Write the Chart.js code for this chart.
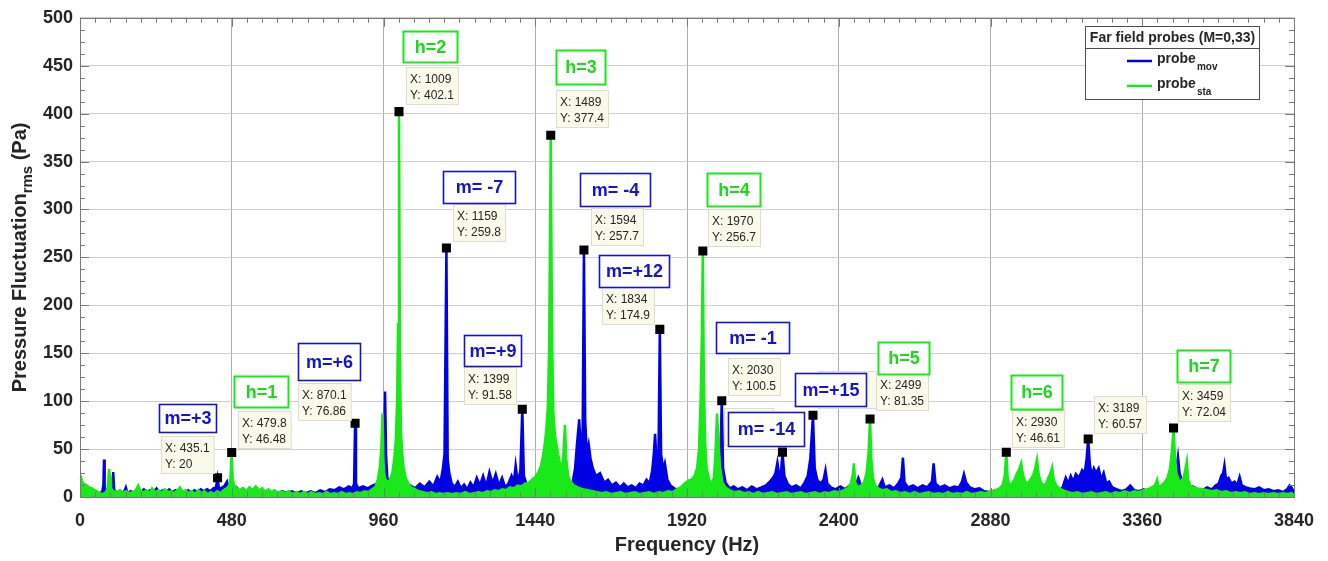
<!DOCTYPE html>
<html>
<head>
<meta charset="utf-8">
<script src="https://cdn.jsdelivr.net/npm/chart.js@4.4.1/dist/chart.umd.min.js"></script>
<style>
html, body { margin: 0; padding: 0; background: #fff; }
#wrap { width: 1328px; height: 561px; }
</style>
</head>
<body>
<div id="wrap"><canvas id="spectrum" width="1328" height="561"></canvas></div>
<script>
// --- spectrum: frequency (Hz) / amplitude rms (Pa) ---
const freqMov = [0,12,24,36,48,60,70,74,76,78,84,92,100,103,105,108,116,128,138,145,150,160,172,182,192,202,212,222,232,242,252,262,272,282,292,302,312,322,332,342,352,362,372,382,392,402,412,422,430,435.1,440,450,458,465,470,485,495,505,515,525,535,545,555,565,575,585,595,605,615,625,640,655,670,685,700,715,730,745,760,775,790,805,820,835,850,862,867,870.1,873,880,895,910,925,940,950,958,962,965,968,972,980,990,1000,1015,1030,1045,1060,1075,1090,1105,1118,1130,1140,1148,1153,1159,1163,1168,1175,1185,1195,1205,1215,1225,1235,1245,1255,1265,1275,1285,1295,1305,1315,1325,1335,1345,1355,1365,1372,1378,1385,1393,1399,1404,1412,1422,1435,1448,1460,1475,1490,1505,1520,1535,1548,1558,1566,1572,1579,1585,1590,1594,1598,1603,1609,1615,1622,1632,1645,1658,1670,1682,1695,1708,1720,1732,1745,1758,1770,1782,1792,1802,1810,1815,1819,1825,1830,1834,1838,1845,1850,1858,1868,1880,1895,1910,1930,1950,1970,1990,2005,2018,2025,2030,2034,2042,2055,2068,2080,2095,2110,2125,2140,2155,2170,2182,2192,2200,2206,2212,2218,2222,2228,2238,2250,2265,2280,2292,2302,2310,2318.5,2324,2332,2342,2352,2358,2364,2375,2390,2405,2420,2435,2450,2462,2468,2480,2495,2510,2525,2538,2545,2560,2575,2588,2598,2603,2608,2620,2635,2650,2665,2680,2695,2700,2706,2720,2735,2750,2765,2780,2790,2796,2803,2815,2830,2845,2860,2880,2900,2920,2940,2960,2980,3000,3020,3040,3060,3080,3095,3108,3118,3126,3134,3142,3150,3160,3170,3178,3184,3189,3194,3200,3207,3214,3222,3230,3238,3246,3255,3265,3280,3295,3310,3322,3335,3350,3365,3380,3395,3410,3425,3440,3452,3462,3468,3473,3478,3485,3495,3508,3520,3535,3550,3565,3580,3592,3602,3610,3616,3620,3625,3633,3642,3652,3660,3668,3675,3688,3700,3715,3730,3745,3760,3775,3790,3805,3818,3826,3832,3840];
const ampMov = [3,5,3,5,3,4,5,12,39,10,5,7,8,15,26,8,4,6,4,10,4,6,4,7,5,8,5,7,5,9,5,7,5,8,5,7,5,6,4,7,5,7,5,8,6,8,6,9,10,20,8,10,12,16,9,7,10,6,9,6,8,5,8,6,7,5,7,5,6,4,6,4,6,4,6,4,6,4,7,5,8,7,10,8,11,9,14,76.86,14,9,11,9,12,14,20,35,60,110,45,20,14,10,8,6,9,12,9,14,10,16,11,21,15,30,45,259.8,40,25,15,10,16,9,13,8,15,10,20,12,22,11,26,14,24,12,20,10,14,22,15,33,14,28,91.58,22,14,10,12,8,10,6,5,7,9,8,12,15,30,55,81,45,70,257.7,80,45,55,40,30,22,25,15,18,12,15,10,14,10,12,9,14,12,18,14,28,45,66,30,50,174.9,45,28,35,18,12,9,7,5,6,5,6,8,12,20,35,100.5,30,15,9,11,8,10,7,11,8,10,12,16,20,25,36,22,28,46.8,22,14,10,12,9,15,22,40,85.2,30,18,14,18,28,14,10,8,11,8,12,10,20,14,9,8,11,9,18,10,12,9,14,20,41,15,10,12,9,12,10,16,35,14,10,12,9,11,10,16,24,15,10,8,9,6,5,6,5,6,4,5,4,5,4,6,5,6,10,20,14,22,16,24,20,28,25,40,60.57,35,22,30,25,30,18,25,14,16,10,8,6,8,12,7,6,8,5,7,5,6,8,10,20,30,42,25,18,12,9,11,8,7,10,8,12,14,22,25,33,18,20,14,16,12,21,12,10,9,8,10,7,8,6,7,5,8,12,10,5];

const freqSta = [0,4,8,14,22,30,38,46,54,62,72,82,88,92,95,98,106,116,126,136,146,156,166,176,184,190,200,210,220,228,238,248,258,268,278,288,298,308,316,324,334,344,354,364,374,384,394,404,414,424,434,444,454,464,472,476,479.8,483,488,496,506,516,526,536,546,556,566,576,586,596,606,616,626,636,648,660,672,684,696,708,720,732,744,756,768,780,792,804,816,828,840,852,864,876,888,900,912,924,934,942,948,953,957,960,964,972,980,988,994,999,1003,1006,1009,1012,1015,1019,1024,1030,1038,1048,1060,1072,1085,1098,1112,1125,1138,1150,1163,1176,1190,1204,1218,1232,1246,1260,1274,1288,1300,1312,1324,1336,1348,1360,1372,1384,1396,1408,1420,1430,1440,1450,1458,1464,1470,1475,1480,1484,1489,1493,1497,1502,1507,1512,1518,1524,1529,1534,1538,1544,1552,1562,1575,1590,1605,1620,1635,1650,1665,1680,1695,1710,1725,1740,1755,1770,1785,1800,1815,1830,1845,1860,1875,1888,1900,1912,1924,1934,1944,1952,1958,1963,1967,1970,1973,1977,1982,1990,1998,2005,2010,2015,2020,2025,2032,2042,2055,2070,2085,2100,2115,2130,2145,2160,2175,2190,2205,2220,2235,2250,2265,2280,2295,2310,2325,2340,2355,2370,2385,2400,2415,2428,2438,2444,2448,2452,2460,2470,2480,2488,2494,2499,2503,2508,2515,2525,2538,2552,2566,2580,2595,2610,2625,2640,2655,2670,2685,2700,2715,2730,2745,2760,2775,2790,2805,2820,2835,2850,2865,2880,2895,2908,2918,2925,2930,2934,2940,2948,2956,2964,2970,2977,2983,2990,2998,3006,3014,3020,3027,3033,3040,3048,3056,3063,3070,3075,3080,3088,3098,3110,3125,3140,3155,3170,3185,3200,3215,3230,3245,3260,3275,3290,3305,3320,3335,3350,3365,3378,3390,3400,3407,3412,3420,3430,3440,3448,3454,3459,3463,3468,3475,3484,3492,3497,3501,3505,3512,3522,3535,3550,3565,3580,3595,3610,3625,3640,3655,3670,3685,3700,3715,3730,3745,3760,3775,3790,3805,3820,3832,3840];
const ampSta = [23,20,15,13,12,10,9,7,6,4,3,5,10,29,20,9,6,5,7,4,6,4,5,7,12,7,5,7,4,9,5,7,4,8,5,6,4,7,10,5,7,4,6,3,7,4,6,3,5,3,6,4,7,9,12,20,46.48,18,12,9,7,9,6,10,7,11,7,9,5,8,5,7,4,6,4,6,3,5,3,5,3,5,3,4,3,5,3,4,3,5,3,4,3,5,4,6,5,8,10,18,30,50,87,35,20,15,18,25,40,60,100,180,402.1,150,70,45,30,20,14,10,8,6,5,4,5,3,4,3,4,3,4,3,5,3,4,5,4,6,5,7,6,8,7,10,9,12,11,14,15,18,21,26,32,42,55,70,95,160,377.4,170,90,65,55,45,35,30,45,75,40,22,16,12,10,8,7,6,5,4,5,3,4,5,3,4,5,3,4,5,3,5,4,6,5,8,10,14,17,18,22,30,50,100,170,256.7,130,60,30,18,14,20,45,87,55,30,15,10,7,5,6,4,5,3,5,3,4,5,3,4,5,3,4,5,3,4,5,3,5,4,6,5,7,9,14,22,35,15,10,12,15,25,45,81.35,40,20,12,9,7,8,5,6,4,5,3,5,3,4,5,3,4,3,5,3,4,3,5,3,4,5,4,6,7,9,12,22,46.61,20,12,14,18,25,28,35,22,16,14,18,22,28,39,22,15,12,14,20,25,31,18,12,9,7,5,4,5,3,4,5,3,4,5,3,5,4,6,4,6,5,7,8,10,12,18,10,12,15,20,30,48,72.04,45,25,18,16,22,30,37,18,12,10,9,8,7,6,7,5,6,4,5,4,5,3,4,3,4,3,4,3,4,3,4,2];

// datatips placed on the figure
const tipX = [435.1, 479.8, 870.1, 1009, 1159, 1399, 1489, 1594, 1834, 1970, 2030, 2222, 2318.5, 2499, 2930, 3189, 3459];
const tipY = [20, 46.48, 76.86, 402.1, 259.8, 91.58, 377.4, 257.7, 174.9, 256.7, 100.5, 46.8, 85.2, 81.35, 46.61, 60.57, 72.04];
const tipLabels = ['m=+3', 'h=1', 'm=+6', 'h=2', 'm= -7', 'm=+9', 'h=3', 'm= -4', 'm=+12', 'h=4', 'm= -1', 'm= -14', 'm=+15', 'h=5', 'h=6', '', 'h=7'];
const tipSeries = ['mov', 'sta', 'mov', 'sta', 'mov', 'mov', 'sta', 'mov', 'mov', 'sta', 'mov', 'mov', 'mov', 'sta', 'sta', 'mov', 'sta'];
const tipHidden = [false, false, false, false, false, false, false, false, false, false, false, true, true, false, false, false, false];

const xTicks = [0, 480, 960, 1440, 1920, 2400, 2880, 3360, 3840];
const yTicks = [0, 50, 100, 150, 200, 250, 300, 350, 400, 450, 500];

// box placement around each marker (px): tip dx, tip dy, label dx, label dy, label w, label h
const tipLayout = [
    [-57, -42, -59, -74, 57, 28],
    [6, -41, 2, -76, 54, 31],
    [-57, -40, -57, -80, 62, 37],
    [7, -45, 4, -81, 54, 31],
    [7, -44, -3, -77, 72, 32],
    [-58, -42, -58, -74, 57, 31],
    [5, -45, 5, -85, 49, 34],
    [7, -42, -4, -77, 70, 33],
    [-58, -42, -61, -74, 70, 32],
    [5, -42, 4, -78, 53, 33],
    [6, -43, -6, -79, 73, 31],
    [-58, -44, -54, -40, 76, 34],
    [5, -44, -18, -42, 71, 33],
    [6, -46, 8, -77, 51, 32],
    [6, -42, 5, -77, 51, 34],
    [6, -43, 0, 0, 0, 0],
    [4, -44, 3, -78, 53, 32]
];

const FONT = '"Liberation Sans", Arial, Helvetica, sans-serif';
const BLUE = 'rgb(0,0,230)';
const GREEN = 'rgb(25,232,25)';
const BLUE_TXT = 'rgb(20,20,205)';
const GREEN_TXT = 'rgb(25,220,25)';
const TXT = '#262626';
const AXIS = '#7a7a7a';

const decor = {
    id: 'decor',
    afterDatasetsDraw(chart) {
        const { ctx, chartArea: a, scales: { x, y } } = chart;
        ctx.save();
        // box and ticks (matlab style, inward)
        ctx.strokeStyle = AXIS;
        ctx.lineWidth = 1;
        ctx.beginPath();
        for (let f = 0; f <= 3840; f += 48) {
            const px = Math.round(x.getPixelForValue(f)) + 0.5;
            const len = (f % 480 === 0) ? 9 : 5;
            ctx.moveTo(px, a.top); ctx.lineTo(px, a.top + len);
            ctx.moveTo(px, a.bottom); ctx.lineTo(px, a.bottom - len);
        }
        for (let v = 0; v <= 500; v += 12.5) {
            const py = Math.round(y.getPixelForValue(v)) + 0.5;
            const len = (v % 50 === 0) ? 9 : 5;
            ctx.moveTo(a.left, py); ctx.lineTo(a.left + len, py);
            ctx.moveTo(a.right, py); ctx.lineTo(a.right - len, py);
        }
        ctx.stroke();
        ctx.strokeRect(Math.round(a.left) + 0.5, Math.round(a.top) + 0.5, Math.round(a.width), Math.round(a.height));

        // datatips
        ctx.font = '12px ' + FONT;
        ctx.textBaseline = 'middle';
        ctx.textAlign = 'left';
        tipX.forEach((fx, i) => {
            const mx = x.getPixelForValue(fx);
            const my = y.getPixelForValue(tipY[i]);
            const lay = tipLayout[i];
            const l1 = 'X: ' + fx, l2 = 'Y: ' + tipY[i];
            const w = Math.max(ctx.measureText(l1).width, ctx.measureText(l2).width) + 8;
            const L = Math.round(mx + lay[0]) + 0.5, T = Math.round(my + lay[1]) + 0.5;
            ctx.fillStyle = 'rgb(250,250,234)';
            ctx.fillRect(L, T, w, 37);
            ctx.strokeStyle = 'rgb(222,222,208)';
            ctx.strokeRect(L, T, w, 37);
            if (!tipHidden[i]) {
                ctx.fillStyle = TXT;
                ctx.fillText(l1, L + 3.5, T + 12);
                ctx.fillText(l2, L + 3.5, T + 28);
            }
        });
        // harmonic / mode labels
        ctx.font = 'bold 18px ' + FONT;
        ctx.textAlign = 'center';
        tipX.forEach((fx, i) => {
            if (!tipLabels[i]) return;
            const mx = x.getPixelForValue(fx);
            const my = y.getPixelForValue(tipY[i]);
            const lay = tipLayout[i];
            const L = Math.round(mx + lay[2]) + 0.5, T = Math.round(my + lay[3]) + 0.5;
            const sta = tipSeries[i] === 'sta';
            ctx.fillStyle = '#fff';
            ctx.fillRect(L, T, lay[4], lay[5]);
            ctx.lineWidth = sta ? 2 : 1.6;
            ctx.strokeStyle = sta ? GREEN : BLUE_TXT;
            ctx.strokeRect(L, T, lay[4], lay[5]);
            ctx.fillStyle = sta ? GREEN_TXT : BLUE_TXT;
            ctx.fillText(tipLabels[i], L + lay[4] / 2, T + lay[5] / 2 + 1);
        });
        ctx.restore();
    },
    afterDraw(chart) {
        const { ctx, chartArea: a } = chart;
        ctx.save();
        ctx.fillStyle = TXT;
        // x title
        ctx.font = 'bold 20px ' + FONT;
        ctx.textAlign = 'center';
        ctx.textBaseline = 'middle';
        ctx.fillText('Frequency (Hz)', (a.left + a.right) / 2, 545);
        // y title with subscript
        ctx.translate(25.5, (a.top + a.bottom) / 2);
        ctx.rotate(-Math.PI / 2);
        ctx.textAlign = 'left';
        ctx.textBaseline = 'alphabetic';
        const p1 = 'Pressure Fluctuation', p2 = 'rms', p3 = ' (Pa)';
        ctx.font = 'bold 20px ' + FONT;
        const w1 = ctx.measureText(p1).width, w3 = ctx.measureText(p3).width;
        ctx.font = 'bold 15px ' + FONT;
        const w2 = ctx.measureText(p2).width;
        let sx = -(w1 + w2 + w3) / 2;
        ctx.font = 'bold 20px ' + FONT;
        ctx.fillText(p1, sx, 0);
        ctx.font = 'bold 15px ' + FONT;
        ctx.fillText(p2, sx + w1, 6);
        ctx.font = 'bold 20px ' + FONT;
        ctx.fillText(p3, sx + w1 + w2, 0);
        ctx.restore();

        // legend
        ctx.save();
        const lx = 1085.5, ly = 26.5, lw = 174, lh = 73;
        ctx.fillStyle = '#fff';
        ctx.fillRect(lx, ly, lw, lh);
        ctx.strokeStyle = '#4d4d4d';
        ctx.lineWidth = 1;
        ctx.strokeRect(lx, ly, lw, lh);
        ctx.beginPath();
        ctx.moveTo(lx, 48.5); ctx.lineTo(lx + lw, 48.5);
        ctx.stroke();
        ctx.fillStyle = TXT;
        ctx.font = 'bold 14px ' + FONT;
        ctx.textAlign = 'center';
        ctx.textBaseline = 'middle';
        ctx.fillText('Far field probes (M=0,33)', lx + lw / 2, 38);
        const entries = [['mov', BLUE, 61], ['sta', GREEN, 86]];
        ctx.textAlign = 'left';
        ctx.textBaseline = 'alphabetic';
        entries.forEach(([sub, col, yy]) => {
            ctx.strokeStyle = col;
            ctx.lineWidth = 2.5;
            ctx.beginPath();
            ctx.moveTo(1127, yy); ctx.lineTo(1152, yy);
            ctx.stroke();
            ctx.fillStyle = TXT;
            ctx.font = 'bold 14px ' + FONT;
            ctx.fillText('probe', 1157, yy + 2);
            const pw = ctx.measureText('probe').width;
            ctx.font = 'bold 10px ' + FONT;
            ctx.fillText(sub, 1157 + pw + 1, yy + 9);
        });
        ctx.restore();
    }
};

const toPts = (fs, vs) => fs.map((f, i) => ({ x: f, y: vs[i] }));

new Chart(document.getElementById('spectrum'), {
    type: 'line',
    data: {
        datasets: [
            {
                label: 'probe_mov',
                data: toPts(freqMov, ampMov),
                borderColor: BLUE,
                backgroundColor: BLUE,
                borderWidth: 2.5,
                pointRadius: 0,
                tension: 0,
                fill: 'origin',
                order: 2
            },
            {
                label: 'probe_sta',
                data: toPts(freqSta, ampSta),
                borderColor: GREEN,
                backgroundColor: GREEN,
                borderWidth: 2.5,
                pointRadius: 0,
                tension: 0,
                fill: 'origin',
                order: 1
            },
            {
                label: 'datatips',
                data: toPts(tipX, tipY),
                showLine: false,
                pointStyle: 'rect',
                pointRadius: 6.4,
                pointBackgroundColor: '#000',
                pointBorderWidth: 0,
                order: 0
            }
        ]
    },
    options: {
        responsive: false,
        animation: false,
        devicePixelRatio: 1,
        layout: { padding: { top: 16, right: 34, left: 0, bottom: 0 } },
        plugins: { legend: { display: false }, tooltip: { enabled: false } },
        scales: {
            x: {
                type: 'linear',
                min: 0,
                max: 3840,
                afterBuildTicks: s => { s.ticks = xTicks.map(v => ({ value: v })); },
                afterFit: s => { s.height = 64; },
                ticks: {
                    callback: v => String(v),
                    font: { family: FONT, size: 18, weight: 'bold' },
                    color: TXT,
                    padding: 13,
                    maxRotation: 0
                },
                grid: { color: '#adadad', drawTicks: false },
                border: { display: false }
            },
            y: {
                type: 'linear',
                min: 0,
                max: 500,
                afterBuildTicks: s => { s.ticks = yTicks.map(v => ({ value: v })); },
                afterFit: s => { s.width = 80; },
                ticks: {
                    callback: v => String(v),
                    font: { family: FONT, size: 18, weight: 'bold' },
                    color: TXT,
                    padding: 7
                },
                grid: { color: '#d0d0d0', drawTicks: false },
                border: { display: false }
            }
        }
    },
    plugins: [decor]
});
</script>
</body>
</html>
